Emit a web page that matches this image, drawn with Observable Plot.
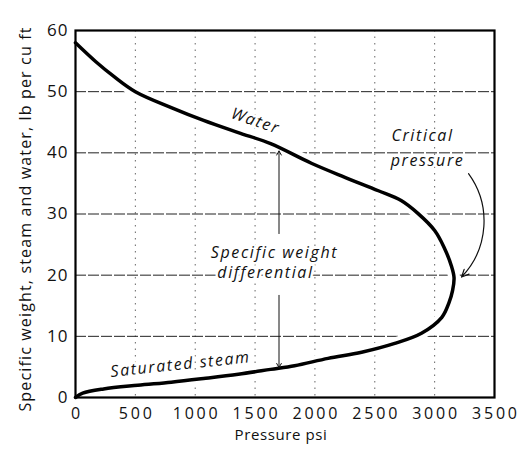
<!DOCTYPE html>
<html>
<head>
<meta charset="utf-8">
<script src="https://cdn.jsdelivr.net/npm/d3@7"></script>
<script src="https://cdn.jsdelivr.net/npm/@observablehq/plot@0.6"></script>
<style>
  html, body { margin: 0; padding: 0; background: #fff; }
  svg { display: block; }
</style>
</head>
<body>
<div id="chart"></div>
<script>
// Saturated water branch (pressure psi, specific weight lb/cu ft), top-left to critical point
const waterPressure = [0, 170, 320, 500, 800, 1070, 1360, 1630, 1970, 2250, 2530, 2720, 2860, 3000, 3080, 3140, 3162];
const waterWeight   = [58.0, 54.9, 52.5, 50.0, 47.4, 45.3, 43.3, 41.5, 38.3, 36.0, 33.8, 32.2, 30.1, 27.3, 24.5, 21.5, 19.6];
// Saturated steam branch, from critical point back to origin
const steamPressure = [3150, 3120, 3060, 2890, 2660, 2390, 2110, 1830, 1630, 1360, 1070, 800, 520, 235, 60, 0];
const steamWeight   = [17.5, 15.5, 13.1, 10.5, 8.8, 7.4, 6.4, 5.2, 4.6, 3.8, 3.1, 2.5, 2.0, 1.4, 0.7, 0];

const xTicks = [0, 500, 1000, 1500, 2000, 2500, 3000, 3500];
const yTicks = [0, 10, 20, 30, 40, 50, 60];
const xGrid = [500, 1000, 1500, 2000, 2500, 3000];
const yGrid = [10, 20, 30, 40, 50];

const xLabel = "Pressure psi";
const yLabel = "Specific weight, steam and water, lb per cu ft";

// annotation texts
const notes = [
  {text: "Water", x: 1504, y: 45.2, rotate: 19},
  {text: "Critical", x: 2899, y: 42.8, rotate: 0},
  {text: "pressure", x: 2941, y: 38.7, rotate: 0},
  {text: "Specific weight", x: 1662, y: 23.7, rotate: 0},
  {text: "differential", x: 1587, y: 20.4, rotate: 0},
  {text: "Saturated steam", x: 877, y: 5.4, rotate: -6}
];
// differential arrow (two halves, broken by the text) at 1700 psi
const diffArrows = [
  {x1: 1700, y1: 26.8, x2: 1700, y2: 40.3},
  {x1: 1700, y1: 16.7, x2: 1700, y2: 4.9}
];
const criticalArrow = [{x1: 3283, y1: 36.6, x2: 3225, y2: 19.7}];

const curve = [
  ...waterPressure.map((p, i) => ({p, w: waterWeight[i]})),
  ...steamPressure.map((p, i) => ({p, w: steamWeight[i]}))
];

const font = "'Open Sans', 'DejaVu Sans', sans-serif";

const chart = Plot.plot({
  width: 521,
  height: 449,
  marginLeft: 75,
  marginRight: 27,
  marginTop: 30,
  marginBottom: 52,
  style: {fontFamily: font, background: "#fff", color: "#111"},
  x: {domain: [0, 3500]},
  y: {domain: [0, 60]},
  marks: [
    Plot.gridX(xGrid, {stroke: "#666", strokeOpacity: 1, strokeDasharray: "1.5,5"}),
    Plot.gridY(yGrid, {stroke: "#222", strokeOpacity: 1, strokeDasharray: "11,2"}),
    Plot.line(curve, {x: "p", y: "w", curve: "catmull-rom", stroke: "#fff", strokeWidth: 12}),
    Plot.line(curve, {x: "p", y: "w", curve: "catmull-rom", stroke: "#000", strokeWidth: 3.5}),
    Plot.text(notes, {x: "x", y: "y", text: "text", rotate: "rotate", fontSize: 16, fontStyle: "italic", fill: "#111", stroke: "#fff", strokeWidth: 5, paintOrder: "stroke", ariaLabel: "note"}),
    Plot.arrow(diffArrows, {x1: "x1", y1: "y1", x2: "x2", y2: "y2", stroke: "#111", strokeWidth: 1, headLength: 7}),
    Plot.arrow(criticalArrow, {x1: "x1", y1: "y1", x2: "x2", y2: "y2", bend: 40, stroke: "#111", strokeWidth: 1.2, headLength: 10, headAngle: 50}),
    Plot.frame({stroke: "#000", strokeWidth: 2.2}),
    Plot.axisX({ticks: xTicks, tickFormat: d => String(d), tickSize: 0, tickPadding: 10, fontSize: 16, dx: 1.4, label: null}),
    Plot.axisY({ticks: yTicks, tickFormat: d => String(d), tickSize: 0, tickPadding: 7, fontSize: 17, label: null}),
    Plot.text([xLabel], {frameAnchor: "bottom", dy: 42, dx: -4, fontSize: 15, fill: "#111", ariaLabel: "xlabel"}),
    Plot.text([yLabel], {frameAnchor: "left", textAnchor: "middle", rotate: -90, dx: -50, dy: 5, fontSize: 16, fill: "#111", ariaLabel: "ylabel"})
  ]
});

// letter spacing to mimic the wide hand-lettered style of the original
const spacing = new Map([
  [yLabel, "1.15px"], [xLabel, "0.6px"]
]);
notes.forEach(n => spacing.set(n.text, "1.6px"));
d3.select(chart).selectAll("text").each(function () {
  const t = this.textContent;
  if (spacing.has(t)) this.style.letterSpacing = spacing.get(t);
  else if (/^\d+$/.test(t)) {
    const ax = this.closest("g[aria-label]");
    const lab = ax ? ax.getAttribute("aria-label") : "";
    this.style.letterSpacing = lab.includes("y-axis") ? "1px" : "2.8px";
  }
});

document.getElementById("chart").appendChild(chart);
</script>
</body>
</html>
